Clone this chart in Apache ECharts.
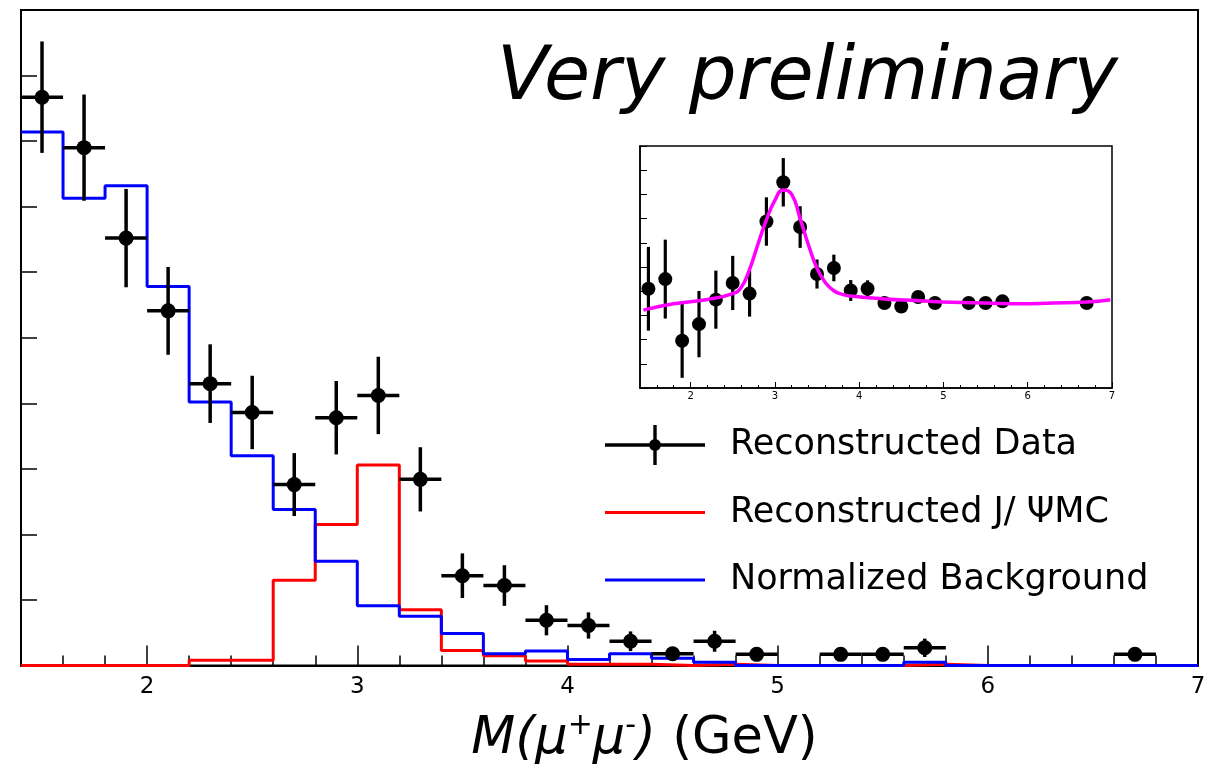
<!DOCTYPE html>
<html>
<head>
<meta charset="utf-8">
<script src="https://cdn.jsdelivr.net/npm/echarts@6.0.0/dist/echarts.min.js"></script>
<style>
  html, body { margin: 0; padding: 0; background: #fff; }
  #main { width: 1216px; height: 770px; }
</style>
</head>
<body>
<div id="main"></div>
<script>
// bin edges of the mass histograms (GeV)
var binEdges = [1.4, 1.6, 1.8, 2.0, 2.2, 2.4, 2.6, 2.8, 3.0, 3.2, 3.4, 3.6, 3.8, 4.0, 4.2,
                4.4, 4.6, 4.8, 5.0, 5.2, 5.4, 5.6, 5.8, 6.0, 6.2, 6.4, 6.6, 6.8, 7.0];

// J/psi MC and background, one value per bin
var jpsiMC = [0, 0, 0, 0, 0.08, 0.08, 1.30, 2.15, 3.06, 0.85, 0.23, 0.15, 0.07, 0.02,
              0.02, 0, 0.02, 0, 0, 0, 0, 0.02, 0, 0, 0, 0, 0, 0];
var background = [8.14, 7.13, 7.32, 5.78, 4.02, 3.20, 2.38, 1.59, 0.91, 0.75, 0.49, 0.18, 0.22, 0.09,
                  0.18, 0.11, 0.05, 0, 0, 0, 0, 0.05, 0, 0, 0, 0, 0, 0];

// reconstructed data points
var dataX   = [1.5, 1.7, 1.9, 2.1, 2.3, 2.5, 2.7, 2.9, 3.1, 3.3, 3.5, 3.7, 3.9, 4.1, 4.3, 4.5, 4.7, 4.9, 5.3, 5.5, 5.7, 6.7];
var dataY   = [8.67, 7.90, 6.52, 5.41, 4.30, 3.86, 2.76, 3.78, 4.12, 2.84, 1.37, 1.22, 0.69, 0.61, 0.37, 0.18, 0.37, 0.17, 0.17, 0.17, 0.27, 0.17];
var dataErr = [0.85, 0.81, 0.75, 0.67, 0.60, 0.56, 0.48, 0.56, 0.59, 0.49, 0.34, 0.31, 0.23, 0.20, 0.15, 0.10, 0.16, 0.10, 0.10, 0.10, 0.14, 0.10];

// inset: data and fit
var insetX   = [1.5, 1.7, 1.9, 2.1, 2.3, 2.5, 2.7, 2.9, 3.1, 3.3, 3.5, 3.7, 3.9, 4.1, 4.3, 4.5, 4.7, 4.9, 5.3, 5.5, 5.7, 6.7];
var insetY   = [4.10, 4.50, 1.95, 2.64, 3.65, 4.34, 3.90, 6.88, 8.50, 6.65, 4.71, 4.96, 4.03, 4.10, 3.51, 3.37, 3.76, 3.51, 3.51, 3.51, 3.58, 3.51];
var insetErr = [1.73, 1.63, 1.53, 1.37, 1.20, 1.12, 0.95, 1.00, 1.00, 0.86, 0.60, 0.55, 0.43, 0.35, 0.25, 0.25, 0.25, 0.20, 0.20, 0.20, 0.20, 0.20];
var fitX = [1.44, 1.8, 2.2, 2.5, 2.6, 2.7, 2.8, 2.9, 3.0, 3.1, 3.2, 3.3, 3.4, 3.5, 3.6, 3.7, 3.8, 3.9, 4.3, 4.7, 5.1, 5.5, 5.9, 6.3, 6.7, 6.98];
var fitY = [3.22, 3.48, 3.66, 3.90, 4.15, 4.90, 5.95, 6.95, 7.75, 8.18, 8.00, 7.00, 5.90, 4.95, 4.35, 4.02, 3.87, 3.80, 3.68, 3.61, 3.54, 3.51, 3.48, 3.51, 3.55, 3.65];

var majorTicks = [2, 3, 4, 5, 6, 7];
var minorTicks = binEdges.filter(function (v) { return v > 1.4 && v < 7 && Math.abs(v - Math.round(v)) > 0.01; });

var FONT = 'DejaVu Sans';

function histLine(vals) {
    return binEdges.map(function (e, i) {
        return [e, i < vals.length ? vals[i] : vals[vals.length - 1]];
    });
}

function errorItem(halfWidth, radius, barWidth) {
    return function (params, api) {
        var x = api.value(0), y = api.value(1), e = api.value(2);
        var c = api.coord([x, y]);
        var top = api.coord([x, y + e]);
        var bot = api.coord([x, Math.max(y - e, 0)]);
        var children = [
            { type: 'line', shape: { x1: c[0], y1: top[1], x2: c[0], y2: bot[1] },
              style: { stroke: '#000', lineWidth: barWidth } }
        ];
        if (halfWidth > 0) {
            var l = api.coord([x - halfWidth, y]);
            var r = api.coord([x + halfWidth, y]);
            children.push({ type: 'line', shape: { x1: l[0], y1: c[1], x2: r[0], y2: c[1] },
                            style: { stroke: '#000', lineWidth: barWidth } });
        }
        children.push({ type: 'circle', shape: { cx: c[0], cy: c[1], r: radius }, style: { fill: '#000' } });
        return { type: 'group', children: children };
    };
}

var dataIcon = 'path://M0 18.3H100V21.7H0Z M48.3 0H51.7V40H48.3Z M44 20A6 6 0 1 1 56 20A6 6 0 1 1 44 20Z';
var lineIcon = 'path://M0 0H0.05V0.05H0Z M0 18.5H100V21.5H0Z M99.95 39.95H100V40H99.95Z';

var myChart = echarts.init(document.getElementById('main'));

var option = {
    animation: false,
    backgroundColor: '#fff',
    title: {
        text: 'Very preliminary',
        left: 497,
        top: 42,
        padding: 0,
        textStyle: { fontFamily: FONT, fontStyle: 'italic', fontWeight: 'normal', fontSize: 75, color: '#000' }
    },
    legend: {
        orient: 'vertical',
        left: 605,
        top: 425,
        padding: 0,
        itemWidth: 100,
        itemHeight: 40,
        itemGap: 27.5,
        selectedMode: false,
        textStyle: { fontFamily: FONT, fontSize: 35, color: '#000', padding: [0, 0, 0, 20] },
        data: [
            { name: 'Reconstructed Data', icon: dataIcon },
            { name: 'Reconstructed J/ \u03A8MC', icon: lineIcon },
            { name: 'Normalized Background', icon: lineIcon }
        ]
    },
    grid: [
        { left: 21, right: 18, top: 10, bottom: 104, show: true, borderColor: '#000', borderWidth: 2, backgroundColor: '#fff' },
        { left: 640, right: 104, top: 146, bottom: 382, show: true, borderColor: '#000', borderWidth: 1.5, backgroundColor: '#fff' }
    ],
    xAxis: [
        {
            gridIndex: 0, type: 'value', min: 1.4, max: 7, position: 'bottom',
            axisLine: { lineStyle: { color: '#000', width: 2 } },
            axisTick: { inside: true, length: 20, customValues: majorTicks, lineStyle: { color: '#000', width: 1.5 } },
            axisLabel: { customValues: majorTicks, fontFamily: FONT, fontSize: 23, color: '#000', margin: 10 },
            splitLine: { show: false },
            name: '{i|M(\u03bc}{s|+}{i|\u03bc}{s|-}{i|)}{n| (GeV)}',
            nameLocation: 'middle',
            nameGap: 46,
            nameTextStyle: {
                fontFamily: FONT, fontSize: 51, color: '#000', padding: [0, 0, 0, 70],
                rich: {
                    i: { fontFamily: FONT, fontSize: 51, fontStyle: 'italic', color: '#000', lineHeight: 56 },
                    s: { fontFamily: FONT, fontSize: 30, color: '#000', verticalAlign: 'top', lineHeight: 56 },
                    n: { fontFamily: FONT, fontSize: 51, color: '#000', lineHeight: 56 }
                }
            }
        },
        {
            gridIndex: 0, type: 'value', min: 1.4, max: 7, position: 'bottom',
            axisLine: { show: false },
            axisTick: { inside: true, length: 10, customValues: minorTicks, lineStyle: { color: '#000', width: 1.5 } },
            axisLabel: { show: false },
            splitLine: { show: false }
        },
        {
            gridIndex: 1, type: 'value', min: 1.4, max: 7, position: 'bottom',
            axisLine: { lineStyle: { color: '#000', width: 1.5 } },
            axisTick: { inside: true, length: 6, customValues: majorTicks, lineStyle: { color: '#000', width: 1 } },
            axisLabel: { customValues: majorTicks, fontFamily: FONT, fontSize: 10, color: '#000', margin: 3 },
            splitLine: { show: false }
        },
        {
            gridIndex: 1, type: 'value', min: 1.4, max: 7, position: 'bottom',
            axisLine: { show: false },
            axisTick: { inside: true, length: 3, customValues: minorTicks, lineStyle: { color: '#000', width: 1 } },
            axisLabel: { show: false },
            splitLine: { show: false }
        }
    ],
    yAxis: [
        {
            gridIndex: 0, type: 'value', min: 0, max: 10, interval: 1,
            axisLine: { show: true, lineStyle: { color: '#000', width: 2 } },
            axisTick: { show: true, inside: true, length: 16, lineStyle: { color: '#000', width: 1.5 } },
            axisLabel: { show: false },
            splitLine: { show: false }
        },
        {
            gridIndex: 1, type: 'value', min: 0, max: 10, interval: 1,
            axisLine: { show: true, lineStyle: { color: '#000', width: 1.5 } },
            axisTick: { show: true, inside: true, length: 7, lineStyle: { color: '#000', width: 1 } },
            axisLabel: { show: false },
            splitLine: { show: false }
        }
    ],
    series: [
        {
            name: 'Reconstructed J/ \u03A8MC',
            type: 'line', xAxisIndex: 0, yAxisIndex: 0,
            step: 'end', showSymbol: false, z: 3,
            itemStyle: { color: '#ff0000' },
            lineStyle: { color: '#ff0000', width: 3 },
            data: histLine(jpsiMC)
        },
        {
            name: 'Normalized Background',
            type: 'line', xAxisIndex: 0, yAxisIndex: 0,
            step: 'end', showSymbol: false, z: 4,
            itemStyle: { color: '#0000ff' },
            lineStyle: { color: '#0000ff', width: 3 },
            data: histLine(background)
        },
        {
            name: 'Reconstructed Data',
            type: 'custom', xAxisIndex: 0, yAxisIndex: 0, z: 10,
            itemStyle: { color: '#000' },
            encode: { x: 0, y: 1 },
            renderItem: errorItem(0.1, 7.5, 3.5),
            data: dataX.map(function (x, i) { return [x, dataY[i], dataErr[i]]; })
        },
        {
            name: 'fit',
            type: 'line', xAxisIndex: 2, yAxisIndex: 1, z: 12,
            smooth: 0.5, showSymbol: false,
            lineStyle: { color: '#ff00ff', width: 3.5 },
            data: fitX.map(function (x, i) { return [x, fitY[i]]; })
        },
        {
            name: 'inset data',
            type: 'custom', xAxisIndex: 2, yAxisIndex: 1, z: 11,
            encode: { x: 0, y: 1 },
            renderItem: errorItem(0, 7, 3.2),
            data: insetX.map(function (x, i) { return [x, insetY[i], insetErr[i]]; })
        }
    ]
};

myChart.setOption(option);
</script>
</body>
</html>
